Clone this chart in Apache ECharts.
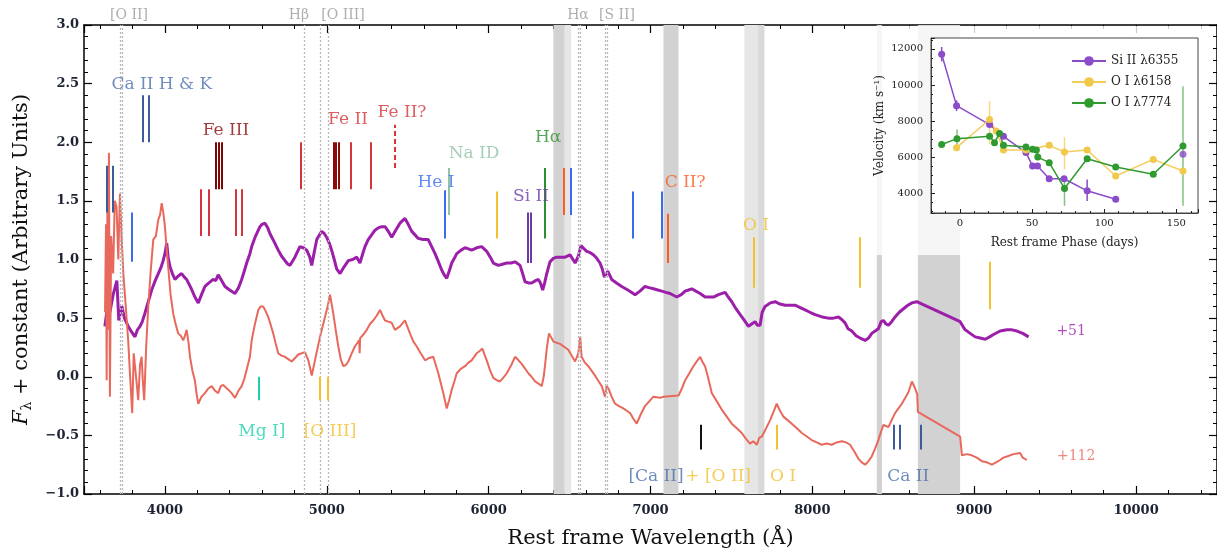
<!DOCTYPE html>
<html>
<head>
<meta charset="utf-8">
<script src="https://cdn.jsdelivr.net/npm/echarts@6/dist/echarts.min.js"></script>
<style>
    html, body { margin: 0; padding: 0; background: #fff; }
    #main { width: 1217px; height: 554px; }
</style>
</head>
<body>
<div id="main"></div>
<script>
// 光谱 +51 d : [波长 Å, 流量 + 常数]
const spec51 = [[3629,0.43],[3645,0.6],[3660,0.55],[3680,0.7],[3703,0.82],[3715,0.48],[3734,0.6],[3750,0.5],[3773,0.43],[3795,0.38],[3815,0.34],[3830,0.4],[3846,0.43],[3860,0.47],[3876,0.54],[3897,0.64],[3918,0.74],[3940,0.82],[3959,0.88],[3975,0.93],[3989,0.99],[4000,1.05],[4011,1.14],[4020,1.02],[4031,0.94],[4046,0.88],[4062,0.83],[4083,0.86],[4103,0.88],[4120,0.85],[4134,0.83],[4160,0.76],[4185,0.68],[4206,0.63],[4226,0.7],[4247,0.77],[4272,0.8],[4298,0.83],[4314,0.82],[4329,0.87],[4350,0.82],[4371,0.77],[4400,0.74],[4433,0.71],[4455,0.76],[4474,0.83],[4490,0.9],[4505,0.97],[4525,1.05],[4536,1.11],[4560,1.2],[4587,1.28],[4600,1.3],[4618,1.31],[4635,1.27],[4649,1.22],[4675,1.15],[4700,1.08],[4720,1.03],[4742,0.99],[4760,0.96],[4773,0.95],[4790,0.99],[4803,1.02],[4820,1.07],[4834,1.11],[4855,1.10],[4876,1.08],[4895,1.02],[4907,0.95],[4922,1.06],[4938,1.17],[4968,1.24],[4985,1.22],[4999,1.19],[5015,1.14],[5030,1.08],[5046,1.0],[5061,0.92],[5082,0.88],[5108,0.94],[5133,0.99],[5160,1.0],[5185,1.02],[5205,0.97],[5220,1.04],[5236,1.11],[5256,1.17],[5277,1.21],[5298,1.25],[5318,1.27],[5340,1.28],[5360,1.28],[5380,1.24],[5401,1.19],[5426,1.25],[5452,1.31],[5483,1.35],[5503,1.3],[5525,1.24],[5545,1.21],[5565,1.18],[5595,1.17],[5627,1.17],[5648,1.11],[5669,1.05],[5690,0.98],[5710,0.91],[5725,0.87],[5741,0.84],[5756,0.9],[5772,0.97],[5788,1.01],[5803,1.05],[5830,1.08],[5854,1.10],[5875,1.09],[5895,1.08],[5926,1.10],[5957,1.11],[5988,1.07],[6010,1.02],[6029,0.97],[6060,0.95],[6085,0.96],[6112,0.97],[6140,0.97],[6163,0.98],[6194,0.95],[6210,0.88],[6225,0.81],[6245,0.80],[6266,0.80],[6290,0.82],[6307,0.83],[6320,0.8],[6334,0.74],[6346,0.8],[6359,0.88],[6379,0.98],[6400,1.01],[6421,1.02],[6472,1.02],[6503,1.04],[6534,0.97],[6555,1.03],[6571,1.12],[6590,1.09],[6606,1.07],[6625,1.06],[6647,1.04],[6668,1.01],[6688,0.97],[6702,0.92],[6715,0.85],[6736,0.90],[6750,0.86],[6760,0.83],[6790,0.8],[6822,0.77],[6860,0.74],[6905,0.70],[6935,0.73],[6966,0.77],[6990,0.76],[7018,0.75],[7045,0.74],[7070,0.73],[7095,0.72],[7121,0.71],[7162,0.68],[7190,0.70],[7214,0.73],[7235,0.74],[7255,0.75],[7280,0.73],[7307,0.71],[7337,0.68],[7360,0.68],[7389,0.68],[7420,0.70],[7461,0.72],[7480,0.68],[7502,0.64],[7528,0.58],[7554,0.53],[7580,0.48],[7605,0.43],[7625,0.45],[7646,0.47],[7660,0.44],[7677,0.44],[7690,0.55],[7708,0.60],[7740,0.63],[7770,0.64],[7800,0.62],[7832,0.61],[7860,0.61],[7893,0.61],[7925,0.59],[7955,0.57],[7985,0.55],[8017,0.53],[8060,0.51],[8099,0.50],[8130,0.50],[8161,0.51],[8180,0.49],[8202,0.46],[8220,0.41],[8244,0.39],[8270,0.35],[8295,0.33],[8326,0.31],[8347,0.33],[8367,0.37],[8388,0.39],[8408,0.41],[8425,0.47],[8439,0.48],[8455,0.45],[8470,0.44],[8490,0.47],[8511,0.51],[8537,0.55],[8563,0.58],[8590,0.61],[8615,0.63],[8645,0.64],[8913,0.47],[8930,0.43],[8944,0.40],[8975,0.37],[9006,0.34],[9037,0.33],[9068,0.32],[9095,0.34],[9119,0.36],[9160,0.39],[9202,0.40],[9234,0.40],[9264,0.39],[9300,0.37],[9336,0.34]];

// 光谱 +112 d
const spec112 = [[3630,0.55],[3636,1.3],[3640,-0.03],[3645,1.6],[3650,0.4],[3654,1.91],[3660,-0.17],[3668,1.2],[3680,0.88],[3690,1.5],[3701,1.45],[3712,1.0],[3722,1.56],[3732,1.2],[3743,0.88],[3758,0.6],[3773,0.31],[3785,0.0],[3798,-0.31],[3807,0.2],[3815,0.09],[3825,-0.05],[3835,-0.2],[3846,0.1],[3856,0.17],[3864,-0.05],[3872,-0.2],[3884,0.25],[3897,0.6],[3912,0.9],[3928,1.17],[3944,1.2],[3959,1.34],[3970,1.38],[3980,1.48],[3990,1.4],[4000,1.28],[4010,1.1],[4020,0.94],[4035,0.7],[4051,0.54],[4066,0.45],[4082,0.37],[4098,0.35],[4113,0.31],[4124,0.35],[4134,0.40],[4145,0.3],[4155,0.17],[4170,0.05],[4185,-0.03],[4196,-0.15],[4206,-0.23],[4226,-0.17],[4247,-0.14],[4268,-0.1],[4289,-0.08],[4310,-0.12],[4329,-0.14],[4345,-0.08],[4360,-0.07],[4375,-0.09],[4391,-0.11],[4412,-0.14],[4433,-0.18],[4454,-0.12],[4474,-0.08],[4490,-0.02],[4505,0.06],[4525,0.17],[4536,0.31],[4556,0.45],[4577,0.57],[4592,0.6],[4607,0.60],[4622,0.56],[4638,0.51],[4654,0.44],[4669,0.37],[4685,0.28],[4700,0.20],[4720,0.18],[4742,0.17],[4762,0.15],[4783,0.13],[4804,0.16],[4824,0.19],[4845,0.2],[4865,0.21],[4886,0.14],[4907,0.01],[4927,0.14],[4958,0.34],[4989,0.51],[5005,0.6],[5020,0.70],[5030,0.62],[5040,0.54],[5055,0.4],[5071,0.26],[5086,0.15],[5102,0.09],[5118,0.1],[5133,0.13],[5154,0.2],[5174,0.26],[5190,0.29],[5200,0.31],[5203,0.2],[5206,0.33],[5226,0.36],[5247,0.40],[5267,0.45],[5287,0.48],[5308,0.52],[5329,0.57],[5345,0.52],[5360,0.48],[5380,0.47],[5401,0.46],[5421,0.40],[5452,0.43],[5483,0.48],[5514,0.37],[5535,0.3],[5555,0.26],[5580,0.2],[5607,0.14],[5633,0.16],[5658,0.17],[5689,0.03],[5720,-0.14],[5741,-0.27],[5756,-0.2],[5772,-0.11],[5788,-0.04],[5803,0.03],[5830,0.07],[5854,0.09],[5875,0.12],[5895,0.14],[5926,0.20],[5945,0.22],[5961,0.24],[5988,0.14],[6010,0.05],[6029,-0.01],[6050,-0.03],[6070,-0.04],[6090,-0.01],[6112,0.03],[6140,0.1],[6163,0.17],[6185,0.14],[6204,0.11],[6225,0.07],[6245,0.03],[6265,0.0],[6287,-0.04],[6310,-0.06],[6328,-0.08],[6340,0.0],[6348,0.09],[6360,0.25],[6373,0.37],[6400,0.30],[6441,0.28],[6492,0.23],[6534,0.13],[6554,0.20],[6566,0.34],[6574,0.17],[6595,0.12],[6616,0.09],[6637,0.05],[6657,0.01],[6680,-0.04],[6699,-0.08],[6719,-0.17],[6728,-0.08],[6740,-0.10],[6760,-0.17],[6781,-0.23],[6806,-0.25],[6832,-0.27],[6853,-0.29],[6874,-0.31],[6895,-0.36],[6915,-0.40],[6940,-0.32],[6966,-0.25],[6992,-0.21],[7018,-0.17],[7059,-0.18],[7080,-0.17],[7173,-0.16],[7194,-0.1],[7214,-0.03],[7240,0.03],[7265,0.09],[7290,0.14],[7307,0.17],[7320,0.13],[7337,0.09],[7358,-0.02],[7379,-0.14],[7410,-0.21],[7440,-0.28],[7471,-0.34],[7502,-0.40],[7533,-0.44],[7564,-0.48],[7590,-0.53],[7615,-0.57],[7635,-0.55],[7657,-0.58],[7672,-0.52],[7688,-0.51],[7714,-0.44],[7739,-0.37],[7760,-0.30],[7780,-0.23],[7800,-0.29],[7821,-0.34],[7847,-0.37],[7873,-0.40],[7904,-0.44],[7935,-0.48],[7966,-0.51],[7996,-0.54],[8027,-0.56],[8058,-0.58],[8089,-0.57],[8120,-0.58],[8150,-0.56],[8182,-0.55],[8208,-0.56],[8233,-0.58],[8260,-0.64],[8285,-0.70],[8305,-0.73],[8326,-0.75],[8347,-0.72],[8367,-0.68],[8388,-0.61],[8408,-0.54],[8424,-0.47],[8439,-0.41],[8455,-0.42],[8470,-0.43],[8490,-0.37],[8511,-0.31],[8532,-0.27],[8553,-0.23],[8574,-0.18],[8594,-0.13],[8615,-0.04],[8635,-0.10],[8648,-0.15],[8652,-0.30],[8913,-0.51],[8924,-0.67],[8955,-0.66],[8985,-0.67],[9016,-0.69],[9047,-0.72],[9078,-0.73],[9109,-0.75],[9135,-0.73],[9160,-0.71],[9180,-0.69],[9202,-0.68],[9243,-0.66],[9284,-0.65],[9300,-0.69],[9325,-0.71]];

// 灰色遮挡波段
const darkBands = [[6400, 6470], [7080, 7173], [8398, 8430], [8652, 8913]];
const lightBands = [[6470, 6510], [7580, 7665]];
const midBands = [[7665, 7704]];

// 宿主星系发射线 (虚线)
const hostLines = [3722, 3734, 4859, 4958, 5008, 6556, 6568, 6718, 6734];
const hostNames = ['[O II]', 'Hβ', '[O III]', 'Hα', '[S II]'];
const hostNameX = [3778, 4828, 5100, 6552, 6793];

// 谱线标记 (波长)
const caIIlow = [3640, 3680];
const caHK = [3866, 3901];
const blueSingle = [3794];
const feIIIdark = [4313, 4331, 4350];
const feIII = [4222, 4272, 4437, 4474];
const feII = [4840, 5150, 5269];
const feIIdark = [5040, 5055, 5075];
const feIIq = [5422];
const naID = [5751];
const heI = [5730];
const heIhigh = [6510];
const heImid = [6893, 7072];
const goldMid = [6050];
const siII = [6240, 6262];
const hAlpha = [6347];
const cIIhigh = [6466];
const cIIlow = [7105];
const oIa = [7640, 8295];
const oIb = [9099];
const mgI = [4581];
const oIII = [4958, 5009];
const caOII = [7310];
const oI7774 = [7780];
const caIIir = [8500, 8540, 8672];

// 文字标注
const labelText = ['Ca II H & K', 'Fe III', 'Fe II', 'Fe II?', 'Na ID', 'He I', 'Hα', 'Si II', 'C II?', 'O I', 'Mg I]', '[O III]', '[Ca II]', '+ [O II]', 'O I', 'Ca II', '+51', '+112'];
const labelX = [3981, 4377, 5131, 5465, 5910, 5675, 6367, 6262, 7214, 7652, 4599, 5020, 7034, 7418, 7819, 8592, 9599, 9630];
const labelY = [2.49, 2.10, 2.19, 2.25, 1.90, 1.66, 2.04, 1.54, 1.66, 1.29, -0.47, -0.47, -0.855, -0.855, -0.855, -0.855, 0.39, -0.68];
const labelColor = ['#4c6fad', '#8b0a0a', '#d3363a', '#d3363a', '#90c4a4', '#3b6cf0', '#2f8f2f', '#6b3aa6', '#ff5b24', '#f2c12e', '#1fd1ae', '#f2c12e', '#4c6fad', '#f2c12e', '#f2c12e', '#4c6fad', '#9b1fa8', '#e8685c'];

// 小图: 速度随相位
const siPhase = [-12.6, -2.3, 20.6, 30.2, 45.8, 50.4, 53.8, 61.9, 72.2, 88.2, 108];
const siVel = [11700, 8850, 7800, 7150, 6250, 5500, 5500, 4800, 4800, 4130, 3660];
const siLatePhase = [154.6];
const siLateVel = [6150];
const o6158Phase = [-2.3, 20.6, 25.2, 30.2, 45.8, 61.9, 72.5, 88.2, 108, 134, 154.6];
const o6158Vel = [6520, 8080, 7440, 6390, 6390, 6650, 6280, 6390, 4950, 5870, 5230];
const o7774Phase = [-12.6, -2, 20.6, 24, 27.5, 30.2, 45.8, 50.4, 53, 54, 61.9, 72.5, 88.2, 108, 134, 154.6];
const o7774Vel = [6700, 7020, 7160, 6800, 7310, 6650, 6560, 6430, 6390, 6000, 5690, 4260, 5910, 5450, 5050, 6610];
// 误差棒 [相位, 下限, 上限]
const siErr = [[-12.6, 11300, 12100], [-2.3, 8550, 9150], [88.2, 3560, 4750]];
const o6158Err = [[20.6, 6700, 9100], [72.5, 5320, 7100]];
const o7774Err = [[-2, 6590, 7530], [72.5, 3300, 4950], [154.6, 3300, 9920]];

const serif = 'DejaVu Serif';

function zip(xs, ys) {
    return xs.map(function(x, i) { return [x, ys[i]]; });
}

// 竖线段标记
function segs(lams, lo, hi, color, dashed) {
    return lams.map(function(l) {
        return [
            {coord: [l, lo], lineStyle: {color: color, width: 2, type: dashed ? [5, 3] : 'solid'}},
            {coord: [l, hi]}
        ];
    });
}

const markSegs = [].concat(
    segs(caIIlow, 1.4, 1.8, '#3d5a9a'),
    segs(caHK, 2.0, 2.4, '#3d5a9a'),
    segs(blueSingle, 0.98, 1.4, '#3b6cf0'),
    segs(feIIIdark, 1.6, 2.0, '#7a0606'),
    segs(feIII, 1.2, 1.6, '#d3363a'),
    segs(feII, 1.6, 2.0, '#d3363a'),
    segs(feIIdark, 1.6, 2.0, '#8b0a0a'),
    segs(feIIq, 1.78, 2.15, '#d3363a', true),
    segs(naID, 1.38, 1.78, '#90c4a4'),
    segs(heI, 1.18, 1.59, '#3b6cf0'),
    segs(heIhigh, 1.38, 1.78, '#3b6cf0'),
    segs(heImid, 1.18, 1.58, '#3b6cf0'),
    segs(goldMid, 1.18, 1.58, '#f2c12e'),
    segs(siII, 0.97, 1.40, '#6b3aa6'),
    segs(hAlpha, 1.18, 1.78, '#2f8f2f'),
    segs(cIIhigh, 1.38, 1.78, '#ff5b24'),
    segs(cIIlow, 0.97, 1.39, '#ff5b24'),
    segs(oIa, 0.76, 1.19, '#f2c12e'),
    segs(oIb, 0.575, 0.98, '#f2c12e'),
    segs(mgI, -0.2, 0, '#1fd1ae'),
    segs(oIII, -0.2, 0, '#f2c12e'),
    segs(caOII, -0.62, -0.41, '#111'),
    segs(oI7774, -0.62, -0.41, '#f2c12e'),
    segs(caIIir, -0.62, -0.41, '#3d5a9a')
);

function bands(list, color) {
    return list.map(function(b) {
        return [{xAxis: b[0], yAxis: -1, itemStyle: {color: color}}, {xAxis: b[1], yAxis: 3}];
    });
}

function errRender(params, api) {
    const a = api.coord([api.value(0), api.value(1)]);
    const b = api.coord([api.value(0), api.value(2)]);
    return {
        type: 'line',
        shape: {x1: a[0], y1: a[1], x2: b[0], y2: b[1]},
        style: {stroke: api.visual('color'), lineWidth: 1.5}
    };
}

// 数字不加千位分隔符
function plain(v) {
    return String(v);
}

const labelData = labelText.map(function(t, i) {
    return {value: [labelX[i], labelY[i]], name: t, label: {color: labelColor[i], fontSize: i >= 16 ? 14 : 17}};
});
const hostLabelData = hostNames.map(function(t, i) {
    return {value: [hostNameX[i], 3.085], name: t};
});

const insetAxisLabel = {fontFamily: serif, fontSize: 10, color: '#222', showMinLabel: false, showMaxLabel: false, formatter: plain};

const option = {
    animation: false,
    backgroundColor: '#fff',
    graphic: [{
        type: 'rect', z: 10, silent: true,
        shape: {x: 866, y: 26, width: 339, height: 229},
        style: {fill: 'rgba(255,255,255,0.8)'}
    }],
    grid: [
        {left: 84, right: 0, top: 25, bottom: 60},
        {left: 931, top: 38, width: 267, height: 175, z: 11, show: true, backgroundColor: '#fff', borderColor: '#444', borderWidth: 1}
    ],
    legend: {
        z: 14, orient: 'vertical', left: 1066, top: 50, itemGap: 9, itemWidth: 34, itemHeight: 12,
        textStyle: {fontFamily: serif, fontSize: 12, color: '#222'},
        data: ['Si II λ6355', 'O I λ6158', 'O I λ7774']
    },
    xAxis: [
        {
            type: 'value', gridIndex: 0, min: 3500, max: 10500, splitNumber: 7,
            axisLine: {onZero: false, lineStyle: {color: '#000', width: 1.5}},
            axisTick: {inside: true, length: 8, lineStyle: {color: '#000', width: 1.2}},
            minorTick: {show: true, splitNumber: 5, length: 4, lineStyle: {color: '#000'}},
            splitLine: {show: false},
            axisLabel: {showMinLabel: false, showMaxLabel: false, fontFamily: serif, fontSize: 13, fontWeight: 'bold', color: '#1d2333', margin: 10, formatter: plain},
            name: 'Rest frame Wavelength (Å)', nameLocation: 'middle', nameGap: 34,
            nameTextStyle: {fontFamily: serif, fontSize: 21, color: '#111'}
        },
        {
            type: 'value', gridIndex: 0, min: 3500, max: 10500, splitNumber: 7, position: 'top',
            axisLine: {onZero: false, lineStyle: {color: '#000', width: 1.5}},
            axisTick: {inside: true, length: 8, lineStyle: {color: '#000', width: 1.2}},
            minorTick: {show: true, splitNumber: 5, length: 4, lineStyle: {color: '#000'}},
            splitLine: {show: false},
            axisLabel: {show: false}
        },
        {
            type: 'value', gridIndex: 1, min: -20, max: 165, splitNumber: 4, z: 12,
            axisLine: {onZero: false, lineStyle: {color: '#444', width: 1}},
            axisTick: {inside: true, length: 4, lineStyle: {color: '#222'}},
            minorTick: {show: true, splitNumber: 5, length: 2, lineStyle: {color: '#222'}},
            splitLine: {show: false},
            axisLabel: Object.assign({margin: 5}, insetAxisLabel),
            name: 'Rest frame Phase (days)', nameLocation: 'middle', nameGap: 24,
            nameTextStyle: {fontFamily: serif, fontSize: 12, color: '#222'}
        }
    ],
    yAxis: [
        {
            type: 'value', gridIndex: 0, min: -1, max: 3, interval: 0.5,
            axisLine: {onZero: false, lineStyle: {color: '#000', width: 1.5}},
            axisTick: {inside: true, length: 8, lineStyle: {color: '#000', width: 1.2}},
            minorTick: {show: true, splitNumber: 5, length: 4, lineStyle: {color: '#000'}},
            splitLine: {show: false},
            axisLabel: {
                fontFamily: serif, fontSize: 13, fontWeight: 'bold', color: '#1d2333', margin: 5,
                formatter: function(v) { return (v < 0 ? '−' : '') + Math.abs(v).toFixed(1); }
            },
            name: '{i|F}{s|λ} + constant (Arbitrary Units)', nameLocation: 'middle', nameGap: 50,
            nameTextStyle: {
                fontFamily: serif, fontSize: 21, color: '#111',
                rich: {
                    i: {fontFamily: serif, fontSize: 21, fontStyle: 'italic', color: '#111'},
                    s: {fontFamily: serif, fontSize: 14, color: '#111', padding: [10, 0, 0, 0]}
                }
            }
        },
        {
            type: 'value', gridIndex: 0, min: -1, max: 3, interval: 0.5, position: 'right',
            axisLine: {onZero: false, lineStyle: {color: '#000', width: 1.5}},
            axisTick: {inside: true, length: 8, lineStyle: {color: '#000', width: 1.2}},
            minorTick: {show: true, splitNumber: 5, length: 4, lineStyle: {color: '#000'}},
            splitLine: {show: false},
            axisLabel: {show: false}
        },
        {
            type: 'value', gridIndex: 1, min: 2900, max: 12600, splitNumber: 5, z: 12,
            axisLine: {onZero: false, lineStyle: {color: '#444', width: 1}},
            axisTick: {inside: true, length: 4, lineStyle: {color: '#222'}},
            minorTick: {show: true, splitNumber: 4, length: 2, lineStyle: {color: '#222'}},
            splitLine: {show: false},
            axisLabel: Object.assign({margin: 8}, insetAxisLabel),
            name: 'Velocity (km s⁻¹)', nameLocation: 'middle', nameGap: 45,
            nameTextStyle: {fontFamily: serif, fontSize: 12, color: '#222'}
        }
    ],
    series: [
        // 遮挡波段与发射线
        {
            type: 'line', xAxisIndex: 0, yAxisIndex: 0, data: [], z: 1, silent: true,
            markArea: {
                silent: true,
                data: [].concat(bands(darkBands, '#d2d2d2'), bands(lightBands, '#e6e6e6'), bands(midBands, '#d9d9d9'))
            },
            markLine: {
                silent: true, symbol: ['none', 'none'], label: {show: false},
                lineStyle: {color: '#b8b8b8', type: [2, 2], width: 1.3},
                data: hostLines.map(function(l) { return {xAxis: l}; })
            }
        },
        {
            name: '+51', type: 'line', xAxisIndex: 0, yAxisIndex: 0, z: 3, showSymbol: false,
            data: spec51, lineStyle: {color: '#9b1fa8', width: 3}, itemStyle: {color: '#9b1fa8'}
        },
        {
            name: '+112', type: 'line', xAxisIndex: 0, yAxisIndex: 0, z: 3, showSymbol: false,
            data: spec112, lineStyle: {color: '#e8685c', width: 2}, itemStyle: {color: '#e8685c'}
        },
        // 谱线标记
        {
            type: 'line', xAxisIndex: 0, yAxisIndex: 0, data: [], z: 4, silent: true,
            markLine: {silent: true, symbol: ['none', 'none'], label: {show: false}, data: markSegs}
        },
        // 文字
        {
            type: 'scatter', xAxisIndex: 0, yAxisIndex: 0, z: 5, symbolSize: 0, silent: true,
            data: labelData,
            label: {show: true, position: 'inside', align: 'center', verticalAlign: 'middle', fontFamily: serif, formatter: '{b}'}
        },
        {
            type: 'scatter', xAxisIndex: 0, yAxisIndex: 0, z: 5, symbolSize: 0, silent: true, clip: false,
            data: hostLabelData,
            label: {show: true, position: 'inside', align: 'center', verticalAlign: 'middle', fontFamily: serif, fontSize: 14, color: '#9a9a9a', formatter: '{b}'}
        },
        // 小图
        {
            name: 'Si II λ6355', type: 'line', xAxisIndex: 2, yAxisIndex: 2, z: 13,
            data: zip(siPhase, siVel), symbol: 'circle', symbolSize: 7,
            lineStyle: {color: '#8a4cc8', width: 1.5}, itemStyle: {color: '#8a4cc8'}
        },
        {
            name: 'Si II λ6355', type: 'scatter', xAxisIndex: 2, yAxisIndex: 2, z: 13,
            data: zip(siLatePhase, siLateVel), symbolSize: 7, itemStyle: {color: '#8a4cc8'}
        },
        {
            name: 'O I λ6158', type: 'line', xAxisIndex: 2, yAxisIndex: 2, z: 13,
            data: zip(o6158Phase, o6158Vel), symbol: 'circle', symbolSize: 7,
            lineStyle: {color: '#f3cd5c', width: 1.5}, itemStyle: {color: '#f2c84a'}
        },
        {
            name: 'O I λ7774', type: 'line', xAxisIndex: 2, yAxisIndex: 2, z: 13,
            data: zip(o7774Phase, o7774Vel), symbol: 'circle', symbolSize: 7,
            lineStyle: {color: '#2f9a2f', width: 1.5}, itemStyle: {color: '#2f9a2f'}
        },
        {
            type: 'custom', xAxisIndex: 2, yAxisIndex: 2, z: 13, silent: true,
            renderItem: errRender, data: siErr, itemStyle: {color: '#8a4cc8'}
        },
        {
            type: 'custom', xAxisIndex: 2, yAxisIndex: 2, z: 13, silent: true,
            renderItem: errRender, data: o6158Err, itemStyle: {color: 'rgba(242,200,74,0.7)'}
        },
        {
            type: 'custom', xAxisIndex: 2, yAxisIndex: 2, z: 13, silent: true,
            renderItem: errRender, data: o7774Err, itemStyle: {color: 'rgba(47,154,47,0.6)'}
        }
    ]
};

const chart = echarts.init(document.getElementById('main'));
chart.setOption(option);
</script>
</body>
</html>
